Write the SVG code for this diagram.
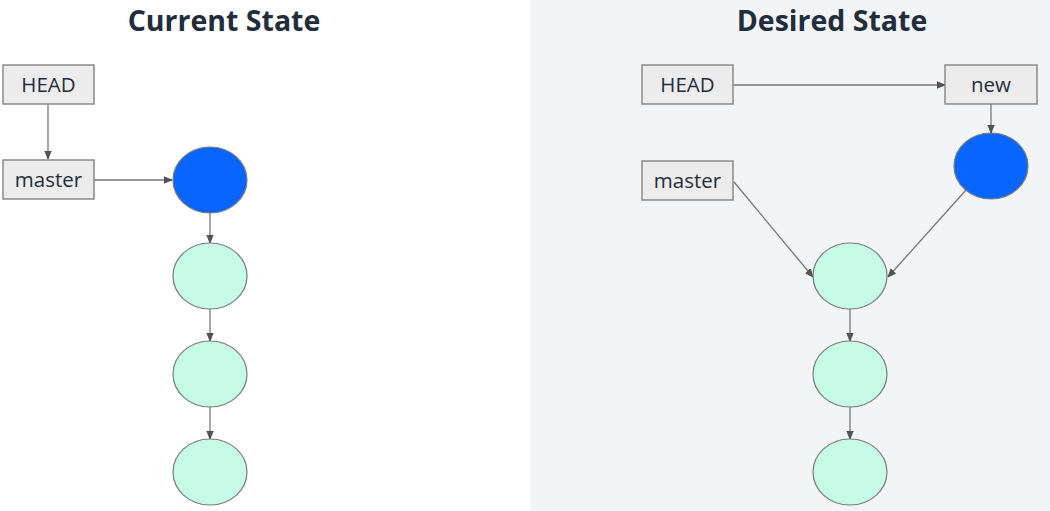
<svg xmlns="http://www.w3.org/2000/svg" width="1050" height="511" viewBox="0 0 1050 511">
<style>
.title{font-family:"Open Sans",Lato,sans-serif;font-weight:bold;font-size:28.5px;fill:#1f2d3d;text-anchor:middle}
.lbl{font-family:"Open Sans",Lato,sans-serif;font-size:20.5px;fill:#1f2d3d;text-anchor:middle}
.box{fill:#ececec;stroke:#8a8a8a;stroke-width:1.5}
.head{fill:#0866ff;stroke:#7a7a7a;stroke-width:1.2}
.commit{fill:#c5fbe7;stroke:#7a7a7a;stroke-width:1.2}
.con line{stroke:#777;stroke-width:1.3;fill:none;marker-end:url(#arr)}
</style>
<defs>
<marker id="arr" viewBox="0 0 10 10" refX="10" refY="5" markerWidth="8" markerHeight="8" orient="auto" markerUnits="userSpaceOnUse">
<path d="M0,1 L10,5 L0,9 z" fill="#555" stroke="#444" stroke-width="1"/>
</marker>
</defs>
<rect x="0" y="0" width="1050" height="511" fill="#ffffff"/>
<rect x="530" y="0" width="520" height="511" fill="#f3f4f6"/>
<text class="title" x="224" y="31">Current State</text>
<text class="title" x="832" y="31">Desired State</text>
<g class="con">
<line x1="48" y1="104" x2="48" y2="159"/>
<line x1="94" y1="180" x2="172" y2="180"/>
<line x1="210" y1="213" x2="210" y2="243"/>
<line x1="210" y1="309" x2="210" y2="341"/>
<line x1="210" y1="407" x2="210" y2="439"/>
<line x1="733" y1="85" x2="945" y2="85"/>
<line x1="991" y1="104" x2="991" y2="133"/>
<line x1="734" y1="182" x2="813" y2="277"/>
<line x1="966" y1="190" x2="888" y2="277"/>
<line x1="850" y1="309" x2="850" y2="341"/>
<line x1="850" y1="407" x2="850" y2="439"/>
</g>
<g id="cur-head"><rect class="box" x="3" y="65" width="91" height="39"/><text class="lbl" x="48.5" y="92">HEAD</text></g>
<g id="cur-master"><rect class="box" x="3" y="160" width="91" height="39"/><text class="lbl" x="48.5" y="187">master</text></g>
<g id="cur-c0"><ellipse class="head" cx="210" cy="180" rx="37" ry="33"/></g>
<g id="cur-c1"><ellipse class="commit" cx="210" cy="276" rx="37" ry="33"/></g>
<g id="cur-c2"><ellipse class="commit" cx="210" cy="374" rx="37" ry="33"/></g>
<g id="cur-c3"><ellipse class="commit" cx="210" cy="472" rx="37" ry="33"/></g>
<g id="des-head"><rect class="box" x="642" y="65" width="91" height="39"/><text class="lbl" x="687.5" y="92">HEAD</text></g>
<g id="des-new"><rect class="box" x="945" y="65" width="92" height="39"/><text class="lbl" x="991" y="92">new</text></g>
<g id="des-master"><rect class="box" x="642" y="161" width="91" height="39"/><text class="lbl" x="687.5" y="188">master</text></g>
<g id="des-c0"><ellipse class="head" cx="991" cy="166" rx="37" ry="33"/></g>
<g id="des-c1"><ellipse class="commit" cx="850" cy="276" rx="37" ry="33"/></g>
<g id="des-c2"><ellipse class="commit" cx="850" cy="374" rx="37" ry="33"/></g>
<g id="des-c3"><ellipse class="commit" cx="850" cy="472" rx="37" ry="33"/></g>
</svg>
